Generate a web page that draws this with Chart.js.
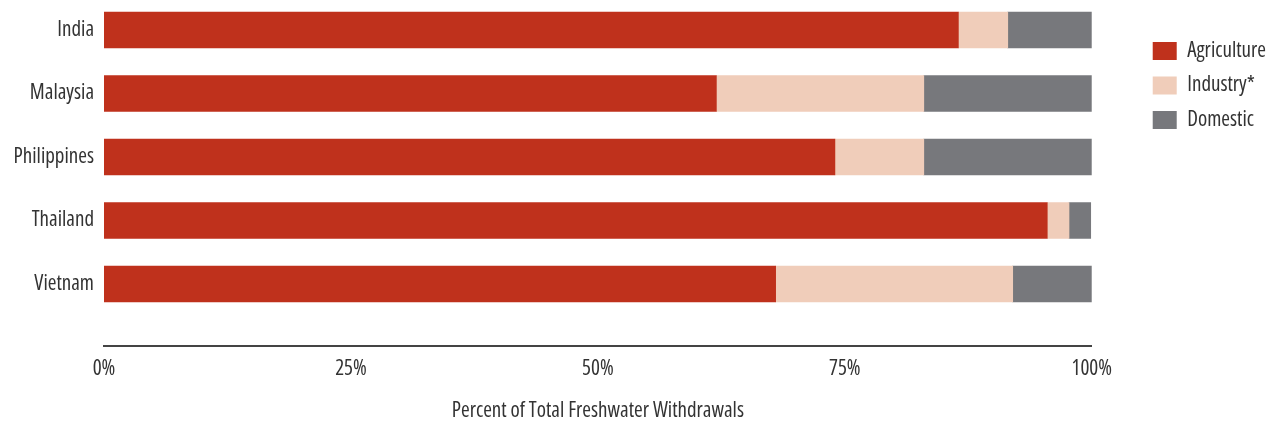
<!DOCTYPE html>
<html>
<head>
<meta charset="utf-8">
<script src="https://cdn.jsdelivr.net/npm/chart.js@4/dist/chart.umd.min.js"></script>
<style>
  html, body { margin: 0; padding: 0; background: #ffffff; }
  #wrap { width: 1269px; height: 424px; position: relative; }
</style>
</head>
<body>
<div id="wrap"><canvas id="chart"></canvas></div>
<script>
// Share of freshwater withdrawals by sector (percent)
const categories = ['India', 'Malaysia', 'Philippines', 'Thailand', 'Vietnam'];
const agriculture = [86.5, 62, 74, 95.5, 68];
const industry = [5, 21, 9, 2.2, 24];
const domestic = [8.5, 17, 17, 2.2, 8];
const xTickValues = [0, 25, 50, 75, 100];
const seriesNames = ['Agriculture', 'Industry*', 'Domestic'];

// Condensed Open Sans stands in for a narrow gothic face
const FONT = { family: "'Open Sans', 'DejaVu Sans Condensed', sans-serif", weight: 'condensed', size: 21 };
const TEXT = '#333333';
const toPoints = arr => arr.map((v, i) => ({ x: v, y: i }));

new Chart(document.getElementById('chart'), {
  type: 'bar',
  data: {
    datasets: [
      { label: seriesNames[0], data: toPoints(agriculture), backgroundColor: '#bf311c' },
      { label: seriesNames[1], data: toPoints(industry), backgroundColor: '#f0cdba' },
      { label: seriesNames[2], data: toPoints(domestic), backgroundColor: '#77787c' }
    ]
  },
  options: {
    indexAxis: 'y',
    responsive: true,
    maintainAspectRatio: false,
    animation: false,
    layout: { padding: { top: 0, right: -7, bottom: 0, left: 0 } },
    datasets: { bar: { barThickness: 36, borderWidth: 0 } },
    scales: {
      x: {
        type: 'linear', stacked: true, min: 0, max: 100,
        grid: { display: false, drawTicks: false },
        border: { display: true, color: '#444444', width: 2 },
        afterBuildTicks: s => { s.ticks = xTickValues.map(v => ({ value: v })); },
        afterFit: s => { s.height = 78; },
        ticks: { padding: 10, color: TEXT, font: FONT, maxRotation: 0, callback: v => v + '%' },
        title: { display: true, text: 'Percent of Total Freshwater Withdrawals', color: TEXT, font: FONT, padding: { top: 8, bottom: 0 } }
      },
      y: {
        type: 'linear', stacked: true, reverse: true, offset: false,
        min: -0.4724, max: 4.9764,
        grid: { display: false, drawTicks: false },
        border: { display: false },
        afterBuildTicks: s => { s.ticks = categories.map((_, i) => ({ value: i })); },
        afterFit: s => { s.width = 104; s.paddingTop = 0; s.paddingBottom = 0; },
        ticks: { padding: 10, color: TEXT, font: FONT, callback: v => categories[v] }
      },
      // empty right-hand axis that keeps the legend clear of the bars
      gap: {
        type: 'linear', position: 'right', display: true,
        grid: { display: false, drawTicks: false }, border: { display: false },
        ticks: { display: false },
        afterFit: s => { s.width = 47.5; s.paddingTop = 0; s.paddingBottom = 0; }
      }
    },
    plugins: {
      tooltip: { enabled: false },
      legend: {
        position: 'right', align: 'start',
        title: { display: true, text: '', padding: 0, font: { size: 27, lineHeight: 1 } },
        labels: { boxWidth: 24, boxHeight: 18, padding: 13.5, color: TEXT, font: FONT }
      }
    }
  }
});
</script>
</body>
</html>
